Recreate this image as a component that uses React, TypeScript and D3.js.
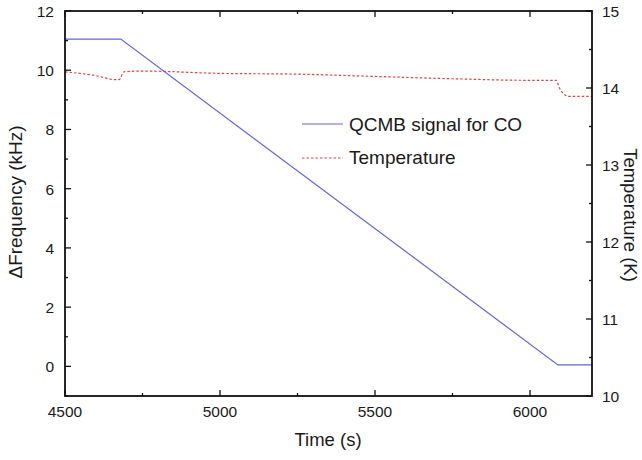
import React from "react";
import * as d3 from "d3";

const qcmbTime = [4500, 4680, 6090, 6200];
const qcmbFreq = [11.05, 11.05, 0.05, 0.05];
const tempTime = [4500, 4600, 4660, 4675, 4690, 4750, 5000, 5250, 5500, 5750, 6000, 6085, 6095, 6110, 6125, 6200];
const tempK = [14.21, 14.16, 14.11, 14.11, 14.21, 14.22, 14.19, 14.18, 14.15, 14.12, 14.1, 14.1, 14.0, 13.92, 13.89, 13.89];
const xTicks = [4500, 5000, 5500, 6000];
const yLeftTicks = [0, 2, 4, 6, 8, 10, 12];
const yRightTicks = [10, 11, 12, 13, 14, 15];

export default function App() {
  const W = 642, H = 460;
  const L = 65, R = 592, T = 11, B = 396;
  const x = d3.scaleLinear().domain([4500, 6200]).range([L, R]);
  const yl = d3.scaleLinear().domain([-1, 12]).range([B, T]);
  const yr = d3.scaleLinear().domain([10, 15]).range([B, T]);
  const lineQ = d3.line<number>().x((_, i) => x(qcmbTime[i])).y((d) => yl(d));
  const lineT = d3.line<number>().x((_, i) => x(tempTime[i])).y((d) => yr(d)).curve(d3.curveMonotoneX);
  const font = "Liberation Sans, Arial, sans-serif";
  const xMinor = d3.range(4500, 6201, 250);
  const ylMinor = d3.range(-1, 12.01, 1);
  const yrMinor = d3.range(10, 15.01, 0.5);
  const blue = "#6464dc";
  const red = "#e04444";
  const ink = "#1a1a1a";
  return (
    <svg width={W} height={H} style={{ position: "absolute", left: 0, top: 0 }} fontFamily={font}>
      <rect width={W} height={H} fill="#fff" />
      <path d={lineT(tempK) || ""} fill="none" stroke={red} strokeWidth={1.2} strokeDasharray="2.5,2" />
      <path d={lineQ(qcmbFreq) || ""} fill="none" stroke={blue} strokeWidth={1.2} />
      <rect x={L} y={T} width={R - L} height={B - T} fill="none" stroke="#111" strokeWidth={1.8} />
      {xMinor.map((v) => {
        const major = v % 500 === 0;
        const len = major ? 6 : 3;
        return (
          <g key={"x" + v}>
            <line x1={x(v)} x2={x(v)} y1={B} y2={B - len} stroke="#111" strokeWidth={1.3} />
            <line x1={x(v)} x2={x(v)} y1={T} y2={T + len} stroke="#111" strokeWidth={1.3} />
          </g>
        );
      })}
      {ylMinor.map((v) => {
        const major = yLeftTicks.includes(v);
        const len = major ? 6 : 3;
        return <line key={"yl" + v} x1={L} x2={L + len} y1={yl(v)} y2={yl(v)} stroke="#111" strokeWidth={1.3} />;
      })}
      {yrMinor.map((v) => {
        const major = yRightTicks.includes(v);
        const len = major ? 6 : 3;
        return <line key={"yr" + v} x1={R} x2={R - len} y1={yr(v)} y2={yr(v)} stroke="#111" strokeWidth={1.3} />;
      })}
      {xTicks.map((v) => (
        <text key={"xt" + v} x={x(v)} y={B + 21} fontSize={15.5} textAnchor="middle" fill={ink}>{v}</text>
      ))}
      {yLeftTicks.map((v) => (
        <text key={"ylt" + v} x={L - 11} y={yl(v) + 6} fontSize={15.5} textAnchor="end" fill={ink}>{v}</text>
      ))}
      {yRightTicks.map((v) => (
        <text key={"yrt" + v} x={R + 10} y={yr(v) + 5.5} fontSize={15.5} textAnchor="start" fill={ink}>{v}</text>
      ))}
      <text x={328} y={446} fontSize={18.5} textAnchor="middle" fill={ink}>Time (s)</text>
      <text transform={`translate(22,202) rotate(-90)`} fontSize={19} textAnchor="middle" fill={ink}>ΔFrequency (kHz)</text>
      <text transform={`translate(624,215) rotate(90)`} fontSize={18.5} textAnchor="middle" fill={ink}>Temperature (K)</text>
      <line x1={302} x2={343} y1={124} y2={124} stroke={blue} strokeWidth={1.2} />
      <text x={349} y={131} fontSize={19} fill={ink}>QCMB signal for CO</text>
      <line x1={302} x2={343} y1={158} y2={158} stroke={red} strokeWidth={1.2} strokeDasharray="2.5,2" />
      <text x={349} y={164} fontSize={19} fill={ink}>Temperature</text>
    </svg>
  );
}
